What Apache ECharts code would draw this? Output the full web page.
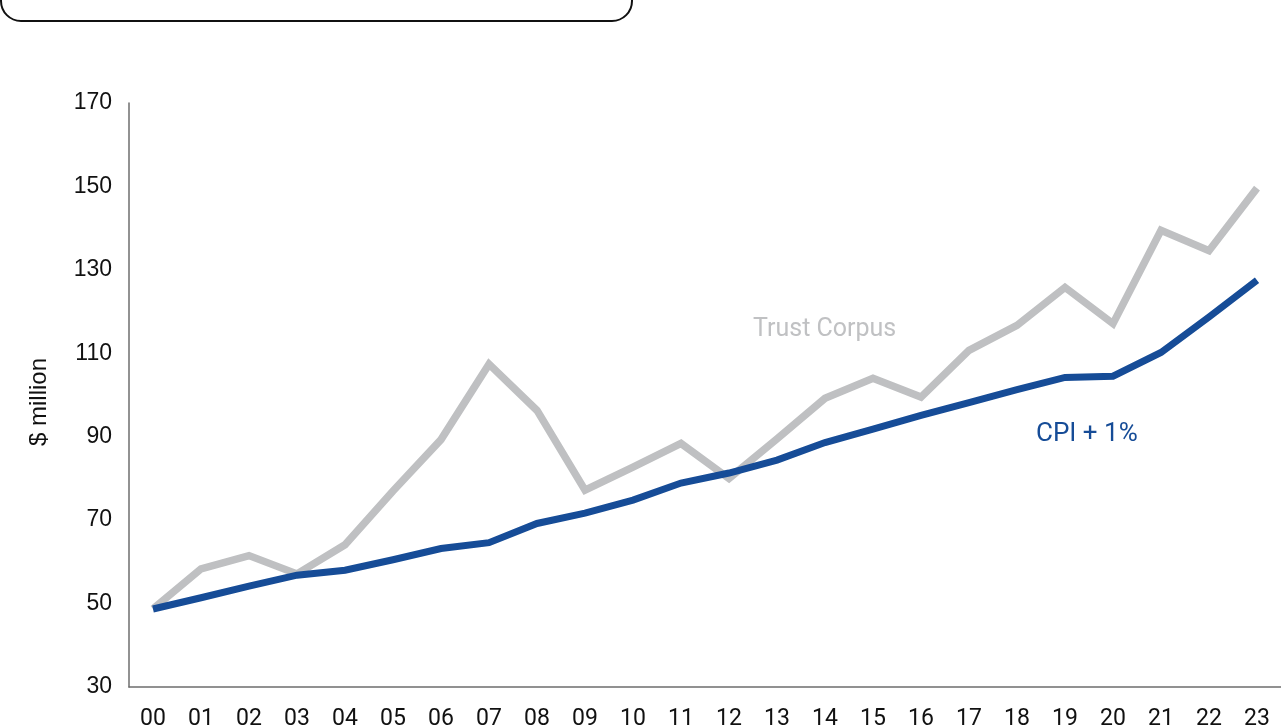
<!DOCTYPE html>
<html>
<head>
<meta charset="utf-8">
<style>
  html, body { margin: 0; padding: 0; background: #ffffff; }
  #chart { width: 1281px; height: 728px; }
</style>
<script src="https://cdn.jsdelivr.net/npm/echarts@6/dist/echarts.min.js"></script>
</head>
<body>
<div id="chart"></div>
<script>
// Year labels (two-digit), 2000 through 2023
const years = ['00','01','02','03','04','05','06','07','08','09','10','11',
               '12','13','14','15','16','17','18','19','20','21','22','23'];

// Trust corpus value, $ million
const trustCorpus = [48.7, 58.3, 61.5, 57.1, 64.1, 77.0, 89.3, 107.4, 96.3, 77.2, 82.7, 88.4,
                     80.0, 89.5, 99.2, 104.0, 99.5, 110.7, 116.7, 125.8, 117.1, 139.5, 134.6, 149.6];

// Starting corpus grown at CPI + 1%, $ million
const cpiPlusOne = [48.7, 51.4, 54.2, 56.8, 58.0, 60.5, 63.2, 64.6, 69.2, 71.7, 74.8, 78.9,
                    81.3, 84.4, 88.6, 91.8, 95.1, 98.2, 101.3, 104.2, 104.5, 110.2, 118.7, 127.5];

// Y axis range
const yMin = 30, yMax = 170, yStep = 20;

const chart = echarts.init(document.getElementById('chart'), null, { renderer: 'canvas' });

const axisColor = '#6e6e6e';
const helvetica = '"Liberation Sans", Arial, sans-serif';
const univers = 'Roboto, "Liberation Sans", sans-serif';

chart.setOption({
  animation: false,
  backgroundColor: '#ffffff',
  grid: { left: 129, right: 0, top: 103, bottom: 41, containLabel: false, outerBoundsMode: 'none' },
  xAxis: {
    type: 'category',
    data: years,
    boundaryGap: true,
    axisLine: { show: true, lineStyle: { color: axisColor, width: 1.5 } },
    axisTick: { show: false },
    axisLabel: { color: '#111', fontSize: 23, fontFamily: univers, margin: 21 },
    splitLine: { show: false }
  },
  yAxis: {
    type: 'value',
    min: yMin, max: yMax, interval: yStep,
    axisLine: { show: true, lineStyle: { color: axisColor, width: 1.5 } },
    axisTick: { show: false },
    axisLabel: { color: '#111', fontSize: 23, fontFamily: helvetica, margin: 17 },
    splitLine: { show: false }
  },
  series: [
    {
      name: 'Trust Corpus',
      type: 'line',
      data: trustCorpus,
      symbol: 'none',
      lineStyle: { color: '#bfc0c2', width: 7.5, cap: 'butt', join: 'miter' },
      z: 2
    },
    {
      name: 'CPI + 1%',
      type: 'line',
      data: cpiPlusOne,
      symbol: 'none',
      lineStyle: { color: '#164c97', width: 7, cap: 'butt', join: 'miter' },
      z: 3
    }
  ],
  graphic: [
    // rounded frame of the heading panel above the plot
    {
      type: 'rect',
      shape: { x: 1, y: -60, width: 631, height: 81, r: 20 },
      style: { fill: 'none', stroke: '#111', lineWidth: 2 }
    },
    // y axis title
    {
      type: 'text',
      x: 39, y: 402,
      rotation: Math.PI / 2,
      style: { text: '$ million', fill: '#111', font: '24px ' + helvetica,
               align: 'center', verticalAlign: 'middle' }
    },
    // series labels placed beside their lines
    {
      type: 'text',
      x: 753, y: 330,
      style: { text: 'Trust Corpus', fill: '#c0c1c3', font: '25px ' + univers,
               align: 'left', verticalAlign: 'middle' }
    },
    {
      type: 'text',
      x: 1036, y: 434,
      style: { text: 'CPI + 1%', fill: '#164c97', font: '26px ' + univers,
               align: 'left', verticalAlign: 'middle' }
    }
  ]
});
</script>
</body>
</html>
